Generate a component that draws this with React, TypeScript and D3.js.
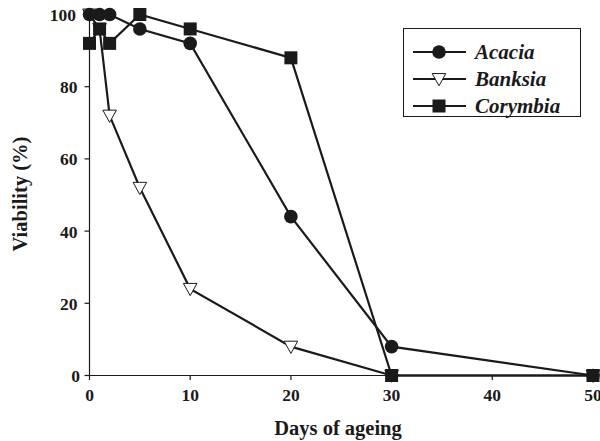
import React from "react";
import * as d3 from "d3";

const days = [0, 1, 2, 5, 10, 20, 30, 50];
const acacia = [100, 100, 100, 96, 92, 44, 8, 0];
const banksia = [100, 96, 72, 52, 24, 8, 0, 0];
const corymbia = [92, 96, 92, 100, 96, 88, 0, 0];
const xTicks = [0, 10, 20, 30, 40, 50];
const yTicks = [0, 20, 40, 60, 80, 100];
const seriesNames = ["Acacia", "Banksia", "Corymbia"];

const W = 600, H = 441;
const FONT = "'Liberation Serif', 'Times New Roman', serif";
const INK = "#1a1a1a";

function Marker({ kind, x, y }: { kind: string; x: number; y: number }) {
  if (kind === "Acacia") return <circle cx={x} cy={y} r={6.8} fill={INK} />;
  if (kind === "Corymbia") return <rect x={x - 6.5} y={y - 6.5} width={13} height={13} fill={INK} />;
  const s = 6.8;
  return (
    <path
      d={`M${x - s},${y - s * 0.8}L${x + s},${y - s * 0.8}L${x},${y + s}Z`}
      fill="#fff"
      stroke={INK}
      strokeWidth={1}
    />
  );
}

export default function App() {
  const x = d3.scaleLinear().domain([0, 50]).range([89.5, 593]);
  const y = d3.scaleLinear().domain([0, 100]).range([375.5, 14.5]);
  const series = [
    { name: "Banksia", vals: banksia },
    { name: "Acacia", vals: acacia },
    { name: "Corymbia", vals: corymbia },
  ];
  const line = d3
    .line<[number, number]>()
    .x((d) => x(d[0]))
    .y((d) => y(d[1]));

  const legendRows = [52, 79, 106];

  return (
    <svg width={W} height={H} style={{ position: "absolute", left: 0, top: 0, background: "#fff" }}>
      <rect width={W} height={H} fill="#fff" />
      {/* axes */}
      <line x1={x(0)} x2={x(0)} y1={y(0)} y2={y(100)} stroke={INK} strokeWidth={1.2} />
      <line x1={x(0)} x2={x(50)} y1={y(0)} y2={y(0)} stroke={INK} strokeWidth={1.2} />
      {yTicks.map((t) => (
        <g key={"y" + t}>
          <line x1={x(0) - 5} x2={x(0)} y1={y(t)} y2={y(t)} stroke={INK} strokeWidth={1.2} />
          <text
            x={t === 100 ? 76 : t === 0 ? 80 : 77.5}
            y={y(t) + 6.5}
            textAnchor="end"
            fontFamily={FONT}
            fontWeight="bold"
            fontSize={17.5}
            fill={INK}
          >
            {t}
          </text>
        </g>
      ))}
      {xTicks.map((t) => (
        <g key={"x" + t}>
          <line x1={x(t)} x2={x(t)} y1={y(0)} y2={y(0) + 4.5} stroke={INK} strokeWidth={1.2} />
          <text
            x={x(t)}
            y={401}
            textAnchor="middle"
            fontFamily={FONT}
            fontWeight="bold"
            fontSize={17.5}
            fill={INK}
          >
            {t}
          </text>
        </g>
      ))}
      <text
        x={338}
        y={435}
        textAnchor="middle"
        fontFamily={FONT}
        fontWeight="bold"
        fontSize={20.5}
        fill={INK}
      >
        Days of ageing
      </text>
      <text
        transform={`translate(27,194) rotate(-90)`}
        textAnchor="middle"
        fontFamily={FONT}
        fontWeight="bold"
        fontSize={20.5}
        fill={INK}
      >
        Viability (%)
      </text>
      {/* lines */}
      {series.map((s) => (
        <path
          key={s.name}
          d={line(days.map((d, i) => [d, s.vals[i]] as [number, number])) || ""}
          fill="none"
          stroke={INK}
          strokeWidth={2.2}
        />
      ))}
      {series.map((s) =>
        days.map((d, i) => <Marker key={s.name + i} kind={s.name} x={x(d)} y={y(s.vals[i])} />)
      )}
      {/* legend */}
      <rect x={403.5} y={28.5} width={177} height={88} fill="#fff" stroke={INK} strokeWidth={1} />
      {seriesNames.map((n, i) => (
        <g key={"lg" + n}>
          <line x1={413} x2={466} y1={legendRows[i]} y2={legendRows[i]} stroke={INK} strokeWidth={2.2} />
          <Marker kind={n} x={439} y={legendRows[i]} />
          <text
            x={475}
            y={legendRows[i] + 7}
            fontFamily={FONT}
            fontWeight="bold"
            fontStyle="italic"
            fontSize={21}
            fill={INK}
          >
            {n}
          </text>
        </g>
      ))}
    </svg>
  );
}
